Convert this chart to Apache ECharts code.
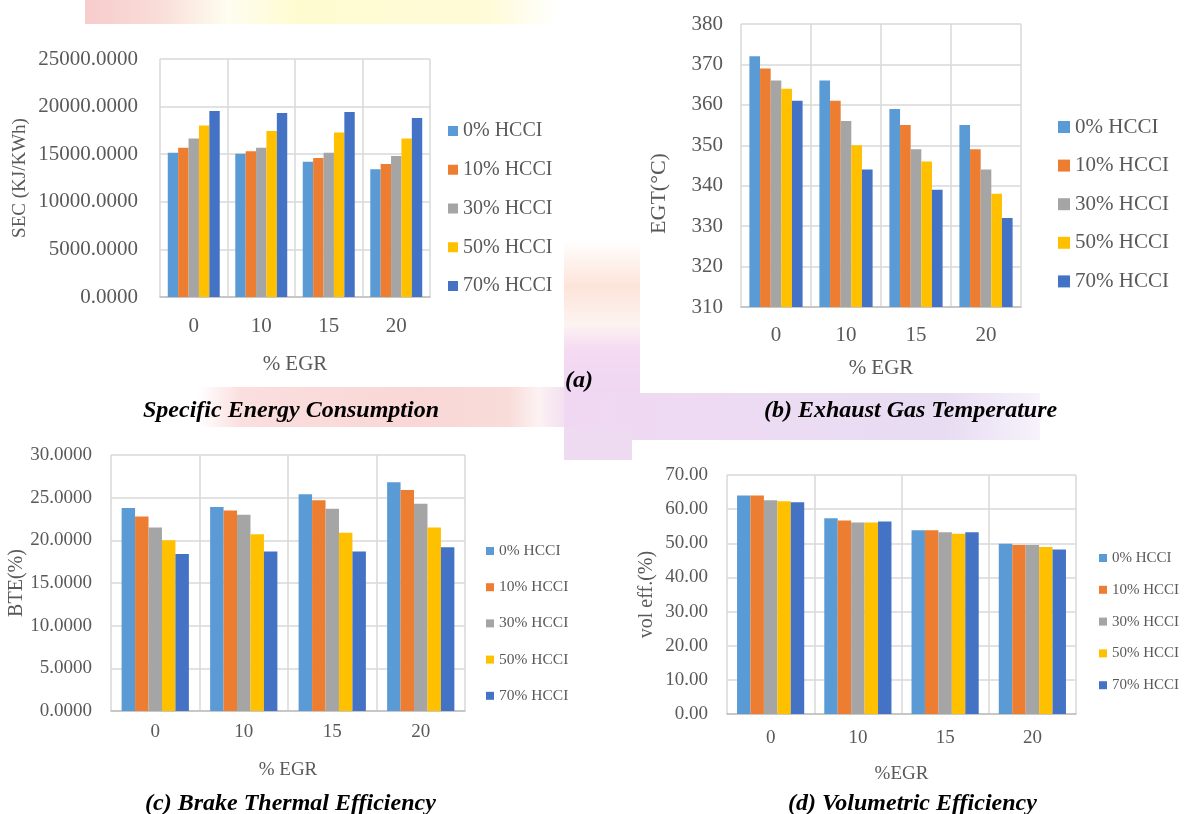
<!DOCTYPE html>
<html>
<head>
<meta charset="utf-8">
<script src="https://cdn.jsdelivr.net/npm/echarts@6/dist/echarts.min.js"></script>
<style>
html,body{margin:0;padding:0;background:#fff;}
#c{width:1184px;height:814px;}
</style>
</head>
<body>
<div id="c"></div>
<script>
const categories = ['0', '10', '15', '20'];
const seriesNames = ['0% HCCI', '10% HCCI', '30% HCCI', '50% HCCI', '70% HCCI'];
const colors = ['#5B9BD5', '#ED7D31', '#A5A5A5', '#FFC000', '#4472C4'];

// (a) Specific Energy Consumption, KJ/KWh — one array per HCCI share, across %EGR
const sec0 = [15150, 15040, 14200, 13430];
const sec10 = [15670, 15320, 14590, 13960];
const sec30 = [16660, 15670, 15150, 14800];
const sec50 = [18020, 17430, 17290, 16660];
const sec70 = [19530, 19320, 19420, 18790];

// (b) Exhaust Gas Temperature, °C
const egt0 = [372, 366, 359, 355];
const egt10 = [369, 361, 355, 349];
const egt30 = [366, 356, 349, 344];
const egt50 = [364, 350, 346, 338];
const egt70 = [361, 344, 339, 332];

// (c) Brake Thermal Efficiency, %
const bte0 = [23.8, 23.9, 25.4, 26.8];
const bte10 = [22.8, 23.5, 24.7, 25.9];
const bte30 = [21.5, 23.0, 23.7, 24.3];
const bte50 = [20.0, 20.7, 20.9, 21.5];
const bte70 = [18.4, 18.7, 18.7, 19.2];

// (d) Volumetric Efficiency, %
const vol0 = [64.0, 57.3, 53.8, 49.9];
const vol10 = [64.0, 56.7, 53.8, 49.5];
const vol30 = [62.6, 56.1, 53.2, 49.5];
const vol50 = [62.3, 56.1, 52.8, 48.9];
const vol70 = [62.0, 56.4, 53.2, 48.2];

const secTicks = {min: 0, max: 25000, interval: 5000};
const egtTicks = {min: 310, max: 380, interval: 10};
const bteTicks = {min: 0, max: 30, interval: 5};
const volTicks = {min: 0, max: 70, interval: 10};

const FONT = "'Liberation Serif', 'Times New Roman', serif";
const GRAY = '#595959';

const panels = [
  {grid: {left: 160, top: 59, width: 270, height: 238}, data: [sec0, sec10, sec30, sec50, sec70],
   ticks: secTicks, fmt: v => v.toFixed(4), yName: 'SEC (KJ/KWh)', yGap: 130, yPad: [0, 0, 0, 0],
   xName: '% EGR', xGap: 57, xMargin: 19, yMargin: 22, fs: 21, yNameFs: 19, xNameFs: 21, gap: '23%',
   legend: {left: 448, top: 121, icon: 10, fs: 20, gap: 18.75}},
  {grid: {left: 741, top: 24, width: 280, height: 283}, data: [egt0, egt10, egt30, egt50, egt70],
   ticks: egtTicks, fmt: v => String(v), yName: 'EGT(°C)', yGap: 71, yPad: [0, 56, 0, 0],
   xName: '% EGR', xGap: 51, xMargin: 18, yMargin: 18, fs: 21, yNameFs: 22, xNameFs: 21, gap: '24%',
   legend: {left: 1058, top: 116.5, icon: 12, fs: 21, gap: 17.6}},
  {grid: {left: 111, top: 455, width: 354, height: 256}, data: [bte0, bte10, bte30, bte50, bte70],
   ticks: bteTicks, fmt: v => v.toFixed(4), yName: 'BTE(%)', yGap: 77, yPad: [0, 0, 0, 0],
   xName: '% EGR', xGap: 50, xMargin: 12, yMargin: 19, fs: 19, yNameFs: 20, xNameFs: 19, gap: '24%',
   legend: {left: 486, top: 543, icon: 8, fs: 15.5, gap: 20.2}},
  {grid: {left: 727, top: 475, width: 349, height: 239}, data: [vol0, vol10, vol30, vol50, vol70],
   ticks: volTicks, fmt: v => v.toFixed(2), yName: 'vol eff.(%)', yGap: 70, yPad: [0, 0, 0, 0],
   xName: '%EGR', xGap: 51, xMargin: 15, yMargin: 19, fs: 19, yNameFs: 20, xNameFs: 19, gap: '23%',
   legend: {left: 1099, top: 550.5, icon: 8, fs: 15, gap: 16.8}}
];

const grid = [], xAxis = [], yAxis = [], series = [], legend = [];
panels.forEach((p, i) => {
  grid.push(Object.assign({containLabel: false}, p.grid));
  xAxis.push({
    type: 'category', gridIndex: i, data: categories,
    name: p.xName, nameLocation: 'middle', nameGap: p.xGap,
    nameTextStyle: {fontFamily: FONT, fontSize: p.xNameFs, color: GRAY},
    axisLine: {show: true, lineStyle: {color: '#BFBFBF', width: 1.5}},
    axisTick: {show: false},
    axisLabel: {fontFamily: FONT, fontSize: p.fs, color: GRAY, margin: p.xMargin},
    splitLine: {show: true, lineStyle: {color: '#D9D9D9', width: 1.5}}
  });
  yAxis.push({
    type: 'value', gridIndex: i, min: p.ticks.min, max: p.ticks.max, interval: p.ticks.interval,
    name: p.yName, nameLocation: 'middle', nameGap: p.yGap, nameRotate: 90,
    nameTextStyle: {fontFamily: FONT, fontSize: p.yNameFs, color: GRAY, padding: p.yPad},
    axisLine: {show: false}, axisTick: {show: false},
    axisLabel: {fontFamily: FONT, fontSize: p.fs, color: GRAY, margin: p.yMargin, formatter: p.fmt},
    splitLine: {show: true, lineStyle: {color: '#D9D9D9', width: 1.5}}
  });
  p.data.forEach((d, k) => {
    series.push({
      type: 'bar', name: seriesNames[k], xAxisIndex: i, yAxisIndex: i, data: d,
      barGap: '0%', barCategoryGap: p.gap, itemStyle: {color: colors[k]}, silent: true,
      animation: false
    });
  });
  legend.push({
    orient: 'vertical', left: p.legend.left, top: p.legend.top, padding: 0,
    data: seriesNames, icon: 'rect', itemWidth: p.legend.icon, itemHeight: p.legend.icon,
    itemGap: p.legend.gap, selectedMode: false,
    textStyle: {fontFamily: FONT, fontSize: p.legend.fs, lineHeight: p.legend.fs, color: GRAY}
  });
});

function lg(x, y, x2, y2, stops) {
  return {type: 'linear', x: x, y: y, x2: x2, y2: y2,
    colorStops: stops.map(s => ({offset: s[0], color: s[1]}))};
}
const capStyle = {fontFamily: FONT, fontSize: 24, fontWeight: 'bold', fontStyle: 'italic', fill: '#000'};

const graphic = [
  // faint watermark patches visible between the chart boxes
  {type: 'rect', shape: {x: 85, y: 0, width: 475, height: 24}, z: -10, silent: true,
   style: {fill: lg(0, 0, 1, 0, [[0, '#f7cccc'], [0.15, '#f9dcd8'], [0.3, '#fefdf0'], [0.45, '#fffbd0'], [0.85, '#fffbd8'], [1, '#ffffff']])}},
  {type: 'rect', shape: {x: 564, y: 240, width: 76, height: 153}, z: -10, silent: true,
   style: {fill: lg(0, 0, 0, 1, [[0, '#ffffff'], [0.3, '#fde4da'], [0.55, '#fdf3f0'], [0.7, '#f5dcf3'], [1, '#efd6f2']])}},
  {type: 'rect', shape: {x: 198, y: 387, width: 366, height: 40}, z: -10, silent: true,
   style: {fill: lg(0, 0, 1, 0, [[0, '#ffffff'], [0.12, '#fbdede'], [0.6, '#f9d7d6'], [0.85, '#f8dcda'], [0.93, '#fcf2f2'], [1, '#f3e0f2']])}},
  {type: 'rect', shape: {x: 564, y: 393, width: 476, height: 47}, z: -10, silent: true,
   style: {fill: lg(0, 0, 1, 0, [[0, '#f1d8f2'], [0.5, '#ebdcf3'], [0.8, '#e7dcf2'], [1, '#f7f2fb']])}},
  {type: 'rect', shape: {x: 564, y: 427, width: 68, height: 33}, z: -10, silent: true,
   style: {fill: '#eedbf1'}},
  // captions
  {type: 'text', left: 565, top: 369, style: Object.assign({text: '(a)'}, capStyle)},
  {type: 'text', left: 143, top: 399, style: Object.assign({text: 'Specific Energy Consumption'}, capStyle)},
  {type: 'text', left: 764, top: 399, style: Object.assign({text: '(b) Exhaust Gas Temperature'}, capStyle)},
  {type: 'text', left: 145, top: 792, style: Object.assign({text: '(c) Brake Thermal Efficiency'}, capStyle)},
  {type: 'text', left: 788, top: 792, style: Object.assign({text: '(d) Volumetric Efficiency'}, capStyle)}
];

const chart = echarts.init(document.getElementById('c'), null, {renderer: 'canvas'});
chart.setOption({
  backgroundColor: '#ffffff',
  animation: false,
  grid: grid, xAxis: xAxis, yAxis: yAxis, series: series, legend: legend, graphic: graphic
});
</script>
</body>
</html>
